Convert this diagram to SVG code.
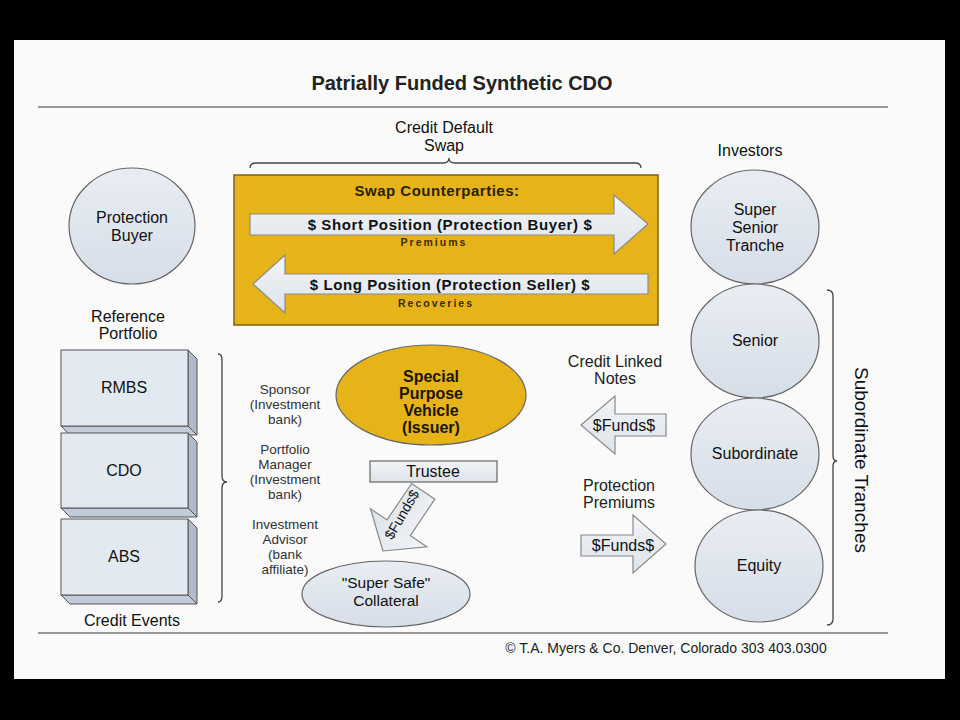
<svg xmlns="http://www.w3.org/2000/svg" width="960" height="720" viewBox="0 0 960 720">
<defs>
<linearGradient id="gBlue" x1="0" y1="0" x2="0" y2="1">
<stop offset="0" stop-color="#E9EDF3"/><stop offset="1" stop-color="#D6DEE8"/>
</linearGradient>
<linearGradient id="gArrow" x1="0" y1="0" x2="0" y2="1">
<stop offset="0" stop-color="#F2F5F8"/><stop offset="1" stop-color="#DDE3EA"/>
</linearGradient>
<style>
text{font-family:"Liberation Sans",Arial,sans-serif;fill:#111;text-anchor:middle}
.t14{font-size:16px}
.t12{font-size:13.5px;fill:#333}
.t13{font-size:16px;fill:#222}
.b13{font-size:15px;font-weight:bold;letter-spacing:0.6px}
.b11{font-size:10.5px;font-weight:bold;letter-spacing:2px;fill:#3a2c00}
.node{fill:url(#gBlue);stroke:#666;stroke-width:1.2}
.arr{fill:url(#gArrow);stroke:#8a8a8a;stroke-width:1.2}
.gold{fill:#E6B418;stroke:#7d6212;stroke-width:1.5}
.brace{fill:none;stroke:#444;stroke-width:1.3}
.rule{stroke:#777;stroke-width:1.5}
.front{fill:#E3E9F1;stroke:#555;stroke-width:1}
.side{fill:#AFBACA;stroke:#555;stroke-width:1}
.bot{fill:#C2CBD8;stroke:#555;stroke-width:1}
.spv{font-size:16px;font-weight:bold;fill:#1a1400}
.fund{font-size:16px}
</style>
</defs>
<rect x="0" y="0" width="960" height="720" fill="#000"/>
<rect x="14" y="40" width="931" height="639" fill="#FAFAFA"/>

<text x="462" y="90" style="font-size:20px;font-weight:bold;fill:#222">Patrially Funded Synthetic CDO</text>
<line class="rule" x1="38" y1="107" x2="888" y2="107"/>
<line class="rule" x1="38" y1="633" x2="888" y2="633"/>
<text x="666" y="653" style="font-size:14px;fill:#222">© T.A. Myers &amp; Co. Denver, Colorado 303 403.0300</text>

<g id="cds-label">
<text class="t14" x="444" y="133">Credit Default</text>
<text class="t14" x="444" y="151">Swap</text>
</g>

<g id="connectors">
<path class="brace" d="M250,168 Q250,163 256,163 L443,163 Q449,163 449,158 Q449,163 455,163 L635,163 Q641,163 641,168"/>
<path class="brace" d="M218,354 Q222,354 222,360 L222,476 Q222,482 227,482 Q222,482 222,488 L222,596 Q222,602 218,602"/>
<path class="brace" d="M827,290 Q833,290 833,296 L833,456 Q833,461 837,461 Q833,461 833,466 L833,619 Q833,625 827,625"/>
</g>

<g id="swap-counterparties">
<rect class="gold" x="234" y="175" width="424" height="150"/>
<text x="437" y="196" style="font-size:15px;font-weight:bold;letter-spacing:0.5px;fill:#2a2000">Swap Counterparties:</text>
<polygon class="arr" points="250,214 614,214 614,195 648,224 614,254 614,235 250,235"/>
<text class="b13" x="450" y="230">$ Short Position (Protection Buyer) $</text>
<text class="b11" x="434" y="246">Premiums</text>
<polygon class="arr" points="648,274 285,274 285,255 253,284 285,313 285,294 648,294"/>
<text class="b13" x="450" y="290">$ Long Position (Protection Seller) $</text>
<text class="b11" x="436" y="307">Recoveries</text>
</g>

<g id="protection-buyer">
<ellipse class="node" cx="132" cy="226" rx="63" ry="58"/>
<text class="t14" x="132" y="223">Protection</text>
<text class="t14" x="132" y="241">Buyer</text>
</g>

<g id="investors">
<text class="t14" x="750" y="156">Investors</text>
</g>
<g id="super-senior">
<ellipse class="node" cx="755" cy="227" rx="64" ry="57"/>
<text class="t14" x="755" y="215">Super</text>
<text class="t14" x="755" y="233">Senior</text>
<text class="t14" x="755" y="251">Tranche</text>
</g>
<g id="senior">
<ellipse class="node" cx="755" cy="341" rx="64" ry="57"/>
<text class="t14" x="755" y="346">Senior</text>
</g>
<g id="subordinate">
<ellipse class="node" cx="755" cy="454" rx="64" ry="56"/>
<text class="t14" x="755" y="459">Subordinate</text>
</g>
<g id="equity">
<ellipse class="node" cx="759" cy="566" rx="64" ry="56"/>
<text class="t14" x="759" y="571">Equity</text>
</g>
<text x="860" y="460" transform="rotate(90 860 460)" style="font-size:19px;dominant-baseline:middle">Subordinate Tranches</text>

<g id="reference-portfolio">
<text class="t14" x="128" y="322">Reference</text>
<text class="t14" x="128" y="339">Portfolio</text>
</g>
<g id="rmbs">
<polygon class="side" points="188,350 197,359 197,435 188,426"/>
<polygon class="bot" points="61,426 188,426 197,435 70,435"/>
<rect class="front" x="61" y="350" width="127" height="76"/>
<text class="t14" x="124" y="393">RMBS</text>
</g>
<g id="cdo">
<polygon class="side" points="188,433 197,442 197,517 188,508"/>
<polygon class="bot" points="61,508 188,508 197,517 70,517"/>
<rect class="front" x="61" y="433" width="127" height="75"/>
<text class="t14" x="124" y="476">CDO</text>
</g>
<g id="abs">
<polygon class="side" points="188,519 197,528 197,604 188,595"/>
<polygon class="bot" points="61,595 188,595 197,604 70,604"/>
<rect class="front" x="61" y="519" width="127" height="76"/>
<text class="t14" x="124" y="562">ABS</text>
</g>
<text class="t14" x="132" y="626">Credit Events</text>

<g id="sponsors">
<text class="t12" x="285" y="394">Sponsor</text>
<text class="t12" x="285" y="409">(Investment</text>
<text class="t12" x="285" y="424">bank)</text>
<text class="t12" x="285" y="454">Portfolio</text>
<text class="t12" x="285" y="469">Manager</text>
<text class="t12" x="285" y="484">(Investment</text>
<text class="t12" x="285" y="499">bank)</text>
<text class="t12" x="285" y="529">Investment</text>
<text class="t12" x="285" y="544">Advisor</text>
<text class="t12" x="285" y="559">(bank</text>
<text class="t12" x="285" y="574">affiliate)</text>
</g>

<g id="spv">
<ellipse cx="431" cy="395" rx="95" ry="50" fill="#E6B418" stroke="#666" stroke-width="1.2"/>
<text class="spv" x="431" y="382">Special</text>
<text class="spv" x="431" y="399">Purpose</text>
<text class="spv" x="431" y="416">Vehicle</text>
<text class="spv" x="431" y="433">(Issuer)</text>
</g>
<g id="trustee">
<rect x="370" y="461" width="127" height="21" fill="url(#gArrow)" stroke="#666" stroke-width="1.2"/>
<text class="t14" x="433" y="477">Trustee</text>
</g>
<g id="funds-down">
<polygon class="arr" transform="translate(383,551) rotate(124)" points="0,0 -28,-34 -28,-14 -72,-14 -72,14 -28,14 -28,34"/>
<text x="406" y="517" transform="rotate(-60 406 517)" style="font-size:14px">$Funds$</text>
</g>
<g id="collateral">
<ellipse class="node" cx="386" cy="594" rx="84" ry="33"/>
<text x="386" y="588" style="font-size:15.5px">"Super Safe"</text>
<text x="386" y="606" style="font-size:15.5px">Collateral</text>
</g>

<g id="cln">
<text class="t13" x="615" y="367">Credit Linked</text>
<text class="t13" x="615" y="384">Notes</text>
<polygon class="arr" points="666,414 615,414 615,396 581,425 615,454 615,436 666,436"/>
<text class="fund" x="624" y="431">$Funds$</text>
</g>
<g id="premiums">
<text class="t13" x="619" y="491">Protection</text>
<text class="t13" x="619" y="508">Premiums</text>
<polygon class="arr" points="581,535 633,535 633,515 666,544 633,573 633,556 581,556"/>
<text class="fund" x="623" y="551">$Funds$</text>
</g>
</svg>
